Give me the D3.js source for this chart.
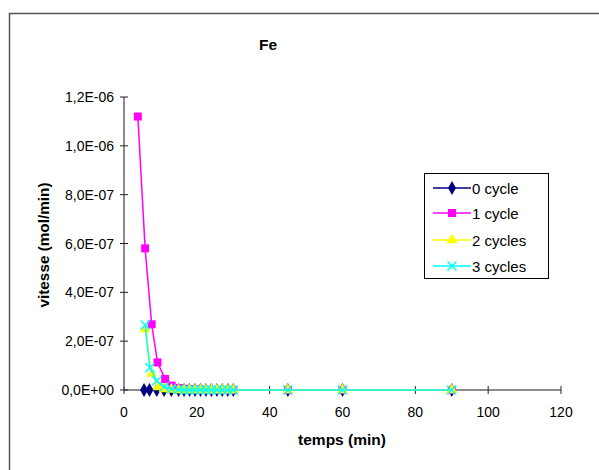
<!DOCTYPE html>
<html><head><meta charset="utf-8">
<script src="https://cdn.jsdelivr.net/npm/d3@7"></script>
<style>body{margin:0;background:#fff}svg{display:block}text{font-family:Arial,"Liberation Sans",sans-serif}</style>
</head><body><svg id="c" width="599" height="470"></svg>
<script>
const title = "Fe";
const xLabel = "temps (min)";
const yLabel = "vitesse (mol/min)";
const seriesNames = ["0 cycle", "1 cycle", "2 cycles", "3 cycles"];
const seriesColors = ["#000080", "#FF00FF", "#FFFF00", "#00FFFF"];
const seriesSymbols = ["diamond", "square", "triangle", "x"];
const x0 = [5.5, 7, 9, 11, 13, 15, 16.5, 18, 19.5, 21, 22.5, 24, 25.5, 27, 28.5, 30, 45, 60, 90];
const y0 = [0, 0, 0, 0, 0, 0, 0, 0, 0, 0, 0, 0, 0, 0, 0, 0, 0, 0, 0];
const x1 = [3.8, 5.8, 7.6, 9.2, 11.3, 13.1, 15, 16.5, 18, 19.5, 21, 22.5, 24, 25.5, 27, 28.5, 30, 45, 60, 90];
const y1 = [1.12e-6, 5.8e-7, 2.69e-7, 1.13e-7, 4.5e-8, 1.8e-8, 8e-9, 5e-9, 3e-9, 2e-9, 1e-9, 1e-9, 0, 0, 0, 0, 0, 0, 0, 0];
const x2 = [5.8, 7.6, 9.4, 11, 13, 15, 16.5, 18, 19.5, 21, 22.5, 24, 25.5, 27, 28.5, 30, 45, 60, 90];
const y2 = [2.5e-7, 6.8e-8, 1.2e-8, 4e-9, 2e-9, 0, 0, 0, 0, 0, 0, 0, 0, 0, 0, 0, 0, 0, 0];
const x3 = [5.8, 7.1, 9, 11, 13, 15, 16.5, 18, 19.5, 21, 22.5, 24, 25.5, 27, 28.5, 30, 45, 60, 90];
const y3 = [2.66e-7, 9.1e-8, 3.7e-8, 1.3e-8, 5e-9, 2e-9, 0, 0, 0, 0, 0, 0, 0, 0, 0, 0, 0, 0, 0];
const xTicks = [0, 20, 40, 60, 80, 100, 120];
const yTicks = [0, 2e-7, 4e-7, 6e-7, 8e-7, 1e-6, 1.2e-6];
const yTickLabels = ["0,0E+00", "2,0E-07", "4,0E-07", "6,0E-07", "8,0E-07", "1,0E-06", "1,2E-06"];

const xs = [x0, x1, x2, x3], ys = [y0, y1, y2, y3];
const svg = d3.select("#c");
svg.append("rect").attr("x", 9.5).attr("y", 13.5).attr("width", 700).attr("height", 600)
  .attr("fill", "none").attr("stroke", "#555").attr("stroke-width", 1.5);

const x = d3.scaleLinear().domain([0, 120]).range([124, 561]);
const y = d3.scaleLinear().domain([0, 1.2e-6]).range([390, 97]);

svg.append("text").attr("x", 268).attr("y", 50).attr("text-anchor", "middle")
  .attr("font-weight", "bold").attr("font-size", 15.5).text(title);

const gx = svg.append("g").attr("transform", "translate(0,390)");
gx.append("line").attr("x1", x(0)).attr("x2", x(120)).attr("stroke", "#666").attr("stroke-width", 1.5);
xTicks.forEach(t => {
  gx.append("line").attr("x1", x(t)).attr("x2", x(t)).attr("y1", -4).attr("y2", 4).attr("stroke", "#222");
  gx.append("text").attr("x", x(t)).attr("y", 27).attr("text-anchor", "middle").attr("font-size", 14).text(t);
});
const gy = svg.append("g").attr("transform", "translate(124,0)");
gy.append("line").attr("y1", y(0)).attr("y2", y(1.2e-6)).attr("stroke", "#666").attr("stroke-width", 1.5);
yTicks.forEach((t, i) => {
  gy.append("line").attr("x1", -4).attr("x2", 4).attr("y1", y(t)).attr("y2", y(t)).attr("stroke", "#222");
  gy.append("text").attr("x", -10).attr("y", y(t) + 5).attr("text-anchor", "end").attr("font-size", 14).text(yTickLabels[i]);
});

svg.append("text").attr("x", 342).attr("y", 445).attr("text-anchor", "middle")
  .attr("font-weight", "bold").attr("font-size", 15.5).text(xLabel);
svg.append("text").attr("transform", "translate(49,245) rotate(-90)").attr("text-anchor", "middle")
  .attr("font-weight", "bold").attr("font-size", 15.3).text(yLabel);

const symMap = {diamond: d3.symbolDiamond, square: d3.symbolSquare, triangle: d3.symbolTriangle, x: d3.symbolTimes};
const symSize = {diamond: 55, square: 64, triangle: 55, x: 55};
function marker(g, type, color, cx, cy) {
  const p = g.append("path").attr("transform", `translate(${cx},${cy})`)
    .attr("d", d3.symbol().type(symMap[type]).size(symSize[type])());
  if (type === "x") p.attr("fill", "none").attr("stroke", color).attr("stroke-width", 1.5);
  else p.attr("fill", color).attr("stroke", "none");
}
const line = d3.line().x(d => x(d[0])).y(d => y(d[1]));
for (let s = 0; s < 4; s++) {
  const pts = xs[s].map((v, i) => [v, ys[s][i]]);
  const g = svg.append("g");
  g.append("path").attr("d", line(pts)).attr("fill", "none").attr("stroke", seriesColors[s]).attr("stroke-width", 1.5);
  pts.forEach(p => marker(g, seriesSymbols[s], seriesColors[s], x(p[0]), y(p[1])));
}

const lg = svg.append("g");
lg.append("rect").attr("x", 424.5).attr("y", 173.5).attr("width", 124).attr("height", 105)
  .attr("fill", "#fff").attr("stroke", "#000").attr("stroke-width", 1);
const rowsY = [188, 213, 240, 266];
seriesNames.forEach((n, i) => {
  lg.append("line").attr("x1", 433).attr("x2", 471).attr("y1", rowsY[i]).attr("y2", rowsY[i])
    .attr("stroke", seriesColors[i]).attr("stroke-width", 1.5);
  marker(lg, seriesSymbols[i], seriesColors[i], 452, rowsY[i]);
  lg.append("text").attr("x", 472).attr("y", rowsY[i] + 5.5).attr("font-size", 15).text(n);
});
</script></body></html>
